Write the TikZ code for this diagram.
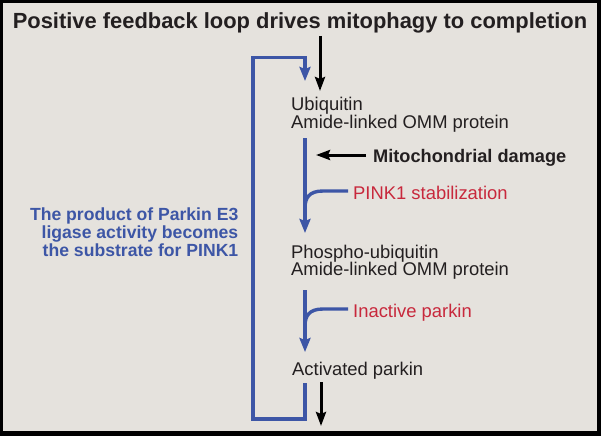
\documentclass[tikz,border=0pt]{standalone}
\usepackage{fontspec}
\setmainfont{Liberation Sans}
\usetikzlibrary{arrows.meta}
\definecolor{bg}{RGB}{229,226,221}
\definecolor{fblue}{RGB}{61,86,166}
\definecolor{fred}{RGB}{200,40,60}
\definecolor{ftext}{RGB}{35,31,32}
\begin{document}
\begin{tikzpicture}[x=1pt,y=-1pt,
  lbl/.style={inner sep=0pt, text=ftext, font=\fontsize{18.4}{18}\selectfont},
  redlbl/.style={inner sep=0pt, text=fred, font=\fontsize{18.4}{18}\selectfont},
  boldlbl/.style={inner sep=0pt, text=ftext, font=\fontsize{18.2}{18}\selectfont\bfseries},
  bluelbl/.style={inner sep=0pt, text=fblue, font=\fontsize{17.6}{18}\selectfont\bfseries},
  titlelbl/.style={inner sep=0pt, text=ftext, font=\fontsize{21.9}{24}\selectfont\bfseries},
  blk/.style={draw=black, line width=3pt, -{Stealth[length=14pt,width=10pt,inset=2pt]}},
  blu/.style={draw=fblue, line width=3.4pt},
  bluarr/.style={blu, -{Stealth[length=14pt,width=11pt,inset=2pt]}}]
\useasboundingbox (0,0) rectangle (601,436);
\fill[black] (0,0) rectangle (601,436);
\fill[bg] (3,3) rectangle (597,431);

% texts
\node[titlelbl, anchor=base] (title) at (300,29) {Positive feedback loop drives mitophagy to completion};
\node[lbl, anchor=base west] (ub) at (291,110.5) {Ubiquitin};
\node[lbl, anchor=base west] (am1) at (291,128) {Amide-linked OMM protein};
\node[boldlbl, anchor=base west] (damage) at (373,162) {Mitochondrial damage};
\node[redlbl, anchor=base west] (pink) at (353,199) {PINK1 stabilization};
\node[lbl, anchor=base west] (phub) at (291,258.5) {Phospho-ubiquitin};
\node[lbl, anchor=base west] (am2) at (291,275.5) {Amide-linked OMM protein};
\node[redlbl, anchor=base west] (inact) at (353,317) {Inactive parkin};
\node[lbl, anchor=base west] (act) at (292,375) {Activated parkin};
\node[bluelbl, anchor=base east] (fb1) at (238.5,220) {The product of Parkin E3};
\node[bluelbl, anchor=base east] (fb2) at (238.5,238) {ligase activity becomes};
\node[bluelbl, anchor=base east] (fb3) at (238.5,256) {the substrate for PINK1};

% coordinates
\coordinate (topin) at (320,36);
\coordinate (topout) at (320,91);
\coordinate (loopA) at (305,383);
\coordinate (loopB) at (305,419);
\coordinate (loopC) at (253,419);
\coordinate (loopD) at (253,57.5);
\coordinate (loopE) at (305,57.5);
\coordinate (loopF) at (305,81);
\coordinate (s1) at (305,138);
\coordinate (e1) at (305,233);
\coordinate (dtail) at (366,155);
\coordinate (dtip) at (316,155);
\coordinate (c1s) at (348,191);
\coordinate (c1m) at (323,191);
\coordinate (c1e) at (305,208);
\coordinate (s2) at (305,290);
\coordinate (e2) at (305,352);
\coordinate (c2s) at (348,309);
\coordinate (c2m) at (323,309);
\coordinate (c2e) at (305,326);
\coordinate (botin) at (321,382);
\coordinate (botout) at (321,426);

% connectors
\draw[blk] (topin) -- (topout);
\draw[bluarr, line join=miter] (loopA) -- (loopB) -- (loopC) -- (loopD) -- (loopE) -- (loopF);
\draw[bluarr] (s1) -- (e1);
\draw[blu] (c1s) -- (c1m) .. controls (309,191) and (305,198) .. (c1e);
\draw[blk] (dtail) -- (dtip);
\draw[bluarr] (s2) -- (e2);
\draw[blu] (c2s) -- (c2m) .. controls (309,309) and (305,316) .. (c2e);
\draw[blk] (botin) -- (botout);
\end{tikzpicture}
\end{document}
